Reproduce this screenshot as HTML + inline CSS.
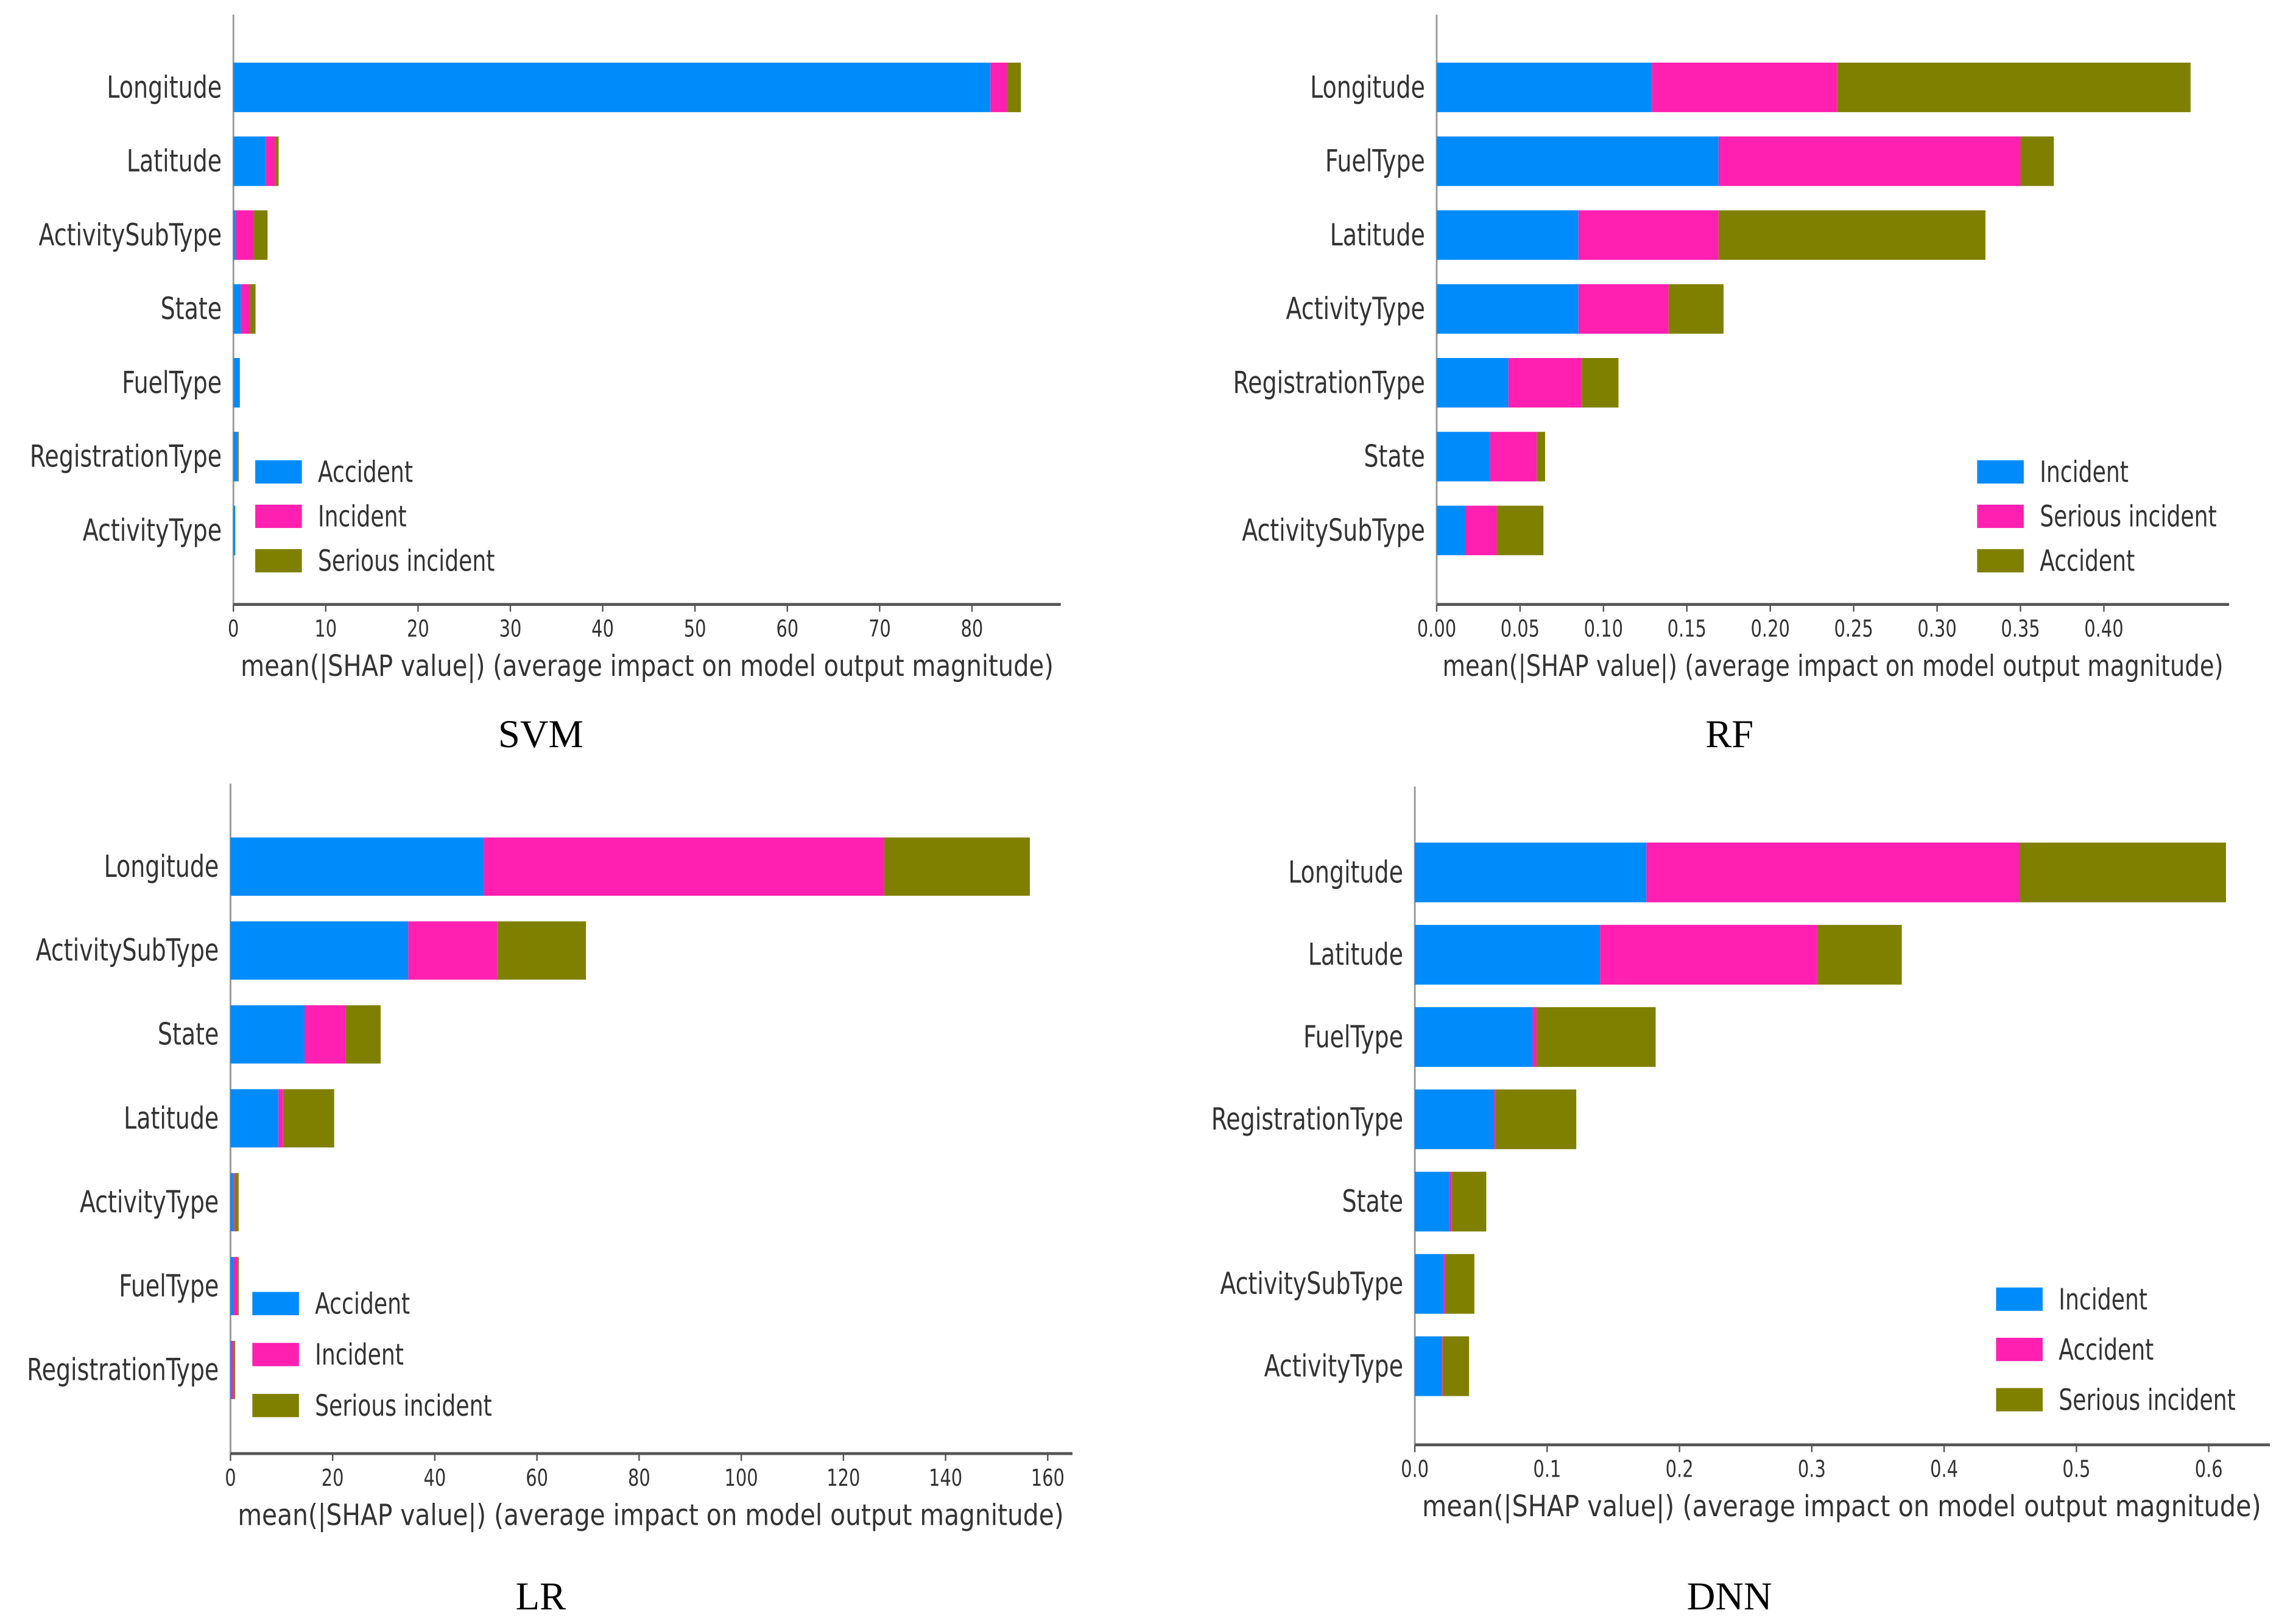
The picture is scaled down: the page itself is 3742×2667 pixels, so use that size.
<!DOCTYPE html>
<html><head><meta charset="utf-8">
<style>
html,body{margin:0;padding:0;background:#fff;}
svg{display:block;}
text{font-family:"DejaVu Sans Condensed","DejaVu Sans","Liberation Sans",sans-serif;fill:#333;}
.title{font-family:"Liberation Serif",serif;fill:#000;font-size:27px;}
</style></head>
<body>
<svg id="fig" width="3742" height="2667" viewBox="0 0 1564 1115" xmlns="http://www.w3.org/2000/svg"></svg>
<script>
const BLUE="#008bfb", PINK="#ff1fb0", OLIVE="#7f8000";
// SVM
const svmFeatures=["Longitude","Latitude","ActivitySubType","State","FuelType","RegistrationType","ActivityType"];
const svmSeries=["Accident","Incident","Serious incident"];
const svmA=[82,3.5,0.2,0.8,0.7,0.4,0.2];
const svmB=[1.8,1,2,1,0,0.05,0];
const svmC=[1.5,0.4,1.5,0.6,0,0.1,0];
const svmTicks=[0,10,20,30,40,50,60,70,80];
// RF
const rfFeatures=["Longitude","FuelType","Latitude","ActivityType","RegistrationType","State","ActivitySubType"];
const rfSeries=["Incident","Serious incident","Accident"];
const rfA=[0.129,0.169,0.085,0.085,0.043,0.032,0.017];
const rfB=[0.111,0.181,0.084,0.054,0.044,0.028,0.019];
const rfC=[0.212,0.020,0.160,0.033,0.022,0.005,0.028];
const rfTicks=["0.00","0.05","0.10","0.15","0.20","0.25","0.30","0.35","0.40"];
// LR
const lrFeatures=["Longitude","ActivitySubType","State","Latitude","ActivityType","FuelType","RegistrationType"];
const lrSeries=["Accident","Incident","Serious incident"];
const lrA=[49.6,34.8,14.5,9.4,0.5,0.6,0.3];
const lrB=[78.4,17.4,8,0.9,0.3,0.8,0.4];
const lrC=[28.5,17.4,6.9,10,0.8,0.2,0.1];
const lrTicks=[0,20,40,60,80,100,120,140,160];
// DNN
const dnnFeatures=["Longitude","Latitude","FuelType","RegistrationType","State","ActivitySubType","ActivityType"];
const dnnSeries=["Incident","Accident","Serious incident"];
const dnnA=[0.175,0.140,0.089,0.060,0.026,0.022,0.020];
const dnnB=[0.282,0.164,0.003,0.001,0.002,0.001,0.001];
const dnnC=[0.156,0.064,0.090,0.061,0.026,0.022,0.020];
const dnnTicks=["0.0","0.1","0.2","0.3","0.4","0.5","0.6"];

const svg=document.getElementById('fig');
const NS="http://www.w3.org/2000/svg";
const SQ=0.84;
function mk(tag,attrs,parent){const e=document.createElementNS(NS,tag);for(const k in attrs)e.setAttribute(k,attrs[k]);(parent||svg).appendChild(e);return e;}
function ctext(x,y,attrs,parent){const a=Object.assign({x:0,y:0,transform:'translate('+x+','+y+') scale('+SQ+',1)'},attrs);return mk('text',a,parent);}

function panel(cfg){
  const g=mk('g',{});
  
  
  const sx=v=>cfg.x0+(v-cfg.vmin)*(cfg.xTickEnd-cfg.x0)/(cfg.tickMax-cfg.vmin);
  const sy=i=>cfg.row0+i*cfg.rowStep;
  const ya=mk('line',{x1:cfg.x0,x2:cfg.x0,y1:cfg.yTop,y2:cfg.axisY,stroke:'#999','stroke-width':1.2},g);
  
  
  const xa=mk('line',{x1:cfg.x0,x2:cfg.axisEnd,y1:cfg.axisY,y2:cfg.axisY,stroke:'#555','stroke-width':2},g);
  
  
  cfg.ticks.forEach(t=>{
    const x=sx(parseFloat(t));
    mk('line',{x1:x,x2:x,y1:cfg.axisY,y2:cfg.axisY+5,stroke:'#555','stroke-width':1},g);
    const tx=ctext(x,cfg.axisY+22,{'text-anchor':'middle','font-size':16,fill:'#444'},g);
    tx.textContent=String(t);
    
    
  });
  const xl=mk('text',{x:cfg.xlabX,y:cfg.axisY+49,'font-size':20,textLength:cfg.xlabW,lengthAdjust:'spacingAndGlyphs'},g);
  xl.textContent="mean(|SHAP value|) (average impact on model output magnitude)";
  
  
  const cols=[BLUE,PINK,OLIVE];
  cfg.features.forEach((f,i)=>{
    const y=sy(i);
    const lab=ctext(cfg.x0-8,y+7,{'text-anchor':'end','font-size':21},g);
    lab.textContent=f;
    
    
    let acc=cfg.vmin;
    [cfg.a,cfg.b,cfg.c].forEach((arr,k)=>{
      const v=arr[i];
      if(v<=0)return;
      const r=mk('rect',{x:sx(acc),y:y-cfg.barH/2,width:Math.max(sx(acc+v)-sx(acc),0.8),height:cfg.barH,fill:cols[k]},g);
      
      
      acc+=v;
    });
  });
  cfg.series.forEach((s,k)=>{
    const y=cfg.legY+k*cfg.legStep;
    const sw=mk('rect',{x:cfg.legX,y:y-8,width:32,height:16,fill:cols[k]},g);
    
    
    const lt=ctext(cfg.legX+43,y+7,{'font-size':20},g);
    lt.textContent=s;
    
    
  });
  const ti=mk('text',{x:cfg.titleX,y:cfg.titleY,'text-anchor':'middle',class:'title'},g);
  ti.textContent=cfg.title;
  
  
}

panel({name:'svm',title:'SVM',features:svmFeatures,series:svmSeries,a:svmA,b:svmB,c:svmC,ticks:svmTicks,
  vmin:0,tickMax:80,x0:160,xTickEnd:667,axisEnd:728,axisY:415,yTop:10,row0:60,rowStep:50.7,barH:34,
  xlabX:165,xlabW:558,legX:175,legY:324,legStep:30.5,titleX:371,titleY:513});
panel({name:'rf',title:'RF',features:rfFeatures,series:rfSeries,a:rfA,b:rfB,c:rfC,ticks:rfTicks,
  vmin:0,tickMax:0.4,x0:986,xTickEnd:1444,axisEnd:1530,axisY:415,yTop:10,row0:60,rowStep:50.7,barH:34,
  xlabX:990,xlabW:536,legX:1357,legY:324,legStep:30.5,titleX:1187,titleY:513});
panel({name:'lr',title:'LR',features:lrFeatures,series:lrSeries,a:lrA,b:lrB,c:lrC,ticks:lrTicks,
  vmin:0,tickMax:160,x0:158,xTickEnd:719,axisEnd:736,axisY:998,yTop:538,row0:595,rowStep:57.6,barH:40,
  xlabX:163,xlabW:567,legX:173,legY:895,legStep:35,titleX:371,titleY:1105});
panel({name:'dnn',title:'DNN',features:dnnFeatures,series:dnnSeries,a:dnnA,b:dnnB,c:dnnC,ticks:dnnTicks,
  vmin:0,tickMax:0.6,x0:971,xTickEnd:1516,axisEnd:1558,axisY:992,yTop:540,row0:599,rowStep:56.5,barH:41,
  xlabX:976,xlabW:576,legX:1370,legY:892,legStep:34.5,titleX:1187,titleY:1105});
</script>
</body></html>
